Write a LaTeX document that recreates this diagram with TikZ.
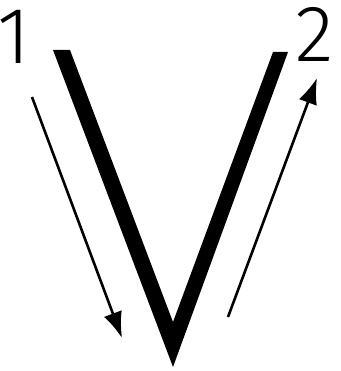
\documentclass[tikz,border=0pt]{standalone}
\usepackage{fontspec}
\newfontfamily\digitfont{Fira Sans Light}
\usetikzlibrary{arrows.meta}

\begin{document}
\begin{tikzpicture}[
  x=1pt, y=-1pt,
  stroke/.style={fill=black, draw=none},
  digit/.style={font=\digitfont\fontsize{80}{80}\selectfont, inner sep=0pt},
  move/.style={-{Latex[length=26pt, width=19pt]}, line width=2.6pt}]

% ---------- frame
\useasboundingbox (0,0) rectangle (340,371);

% ---------- the V
\fill[stroke] (53,50) -- (70,50) -- (173,322) -- (273,52) -- (288,52) -- (173,367) -- cycle;

% ---------- labels
\node[digit] (one) at (14,37) {1};
\node[digit] (two) at (315,34) {2};

% ---------- arrows
\coordinate (s1) at (32,97);
\coordinate (e1) at (122,338);
\coordinate (s2) at (228,317);
\coordinate (e2) at (317,78);
\draw[move] (s1) -- (e1);
\draw[move] (s2) -- (e2);
\end{tikzpicture}
\end{document}
